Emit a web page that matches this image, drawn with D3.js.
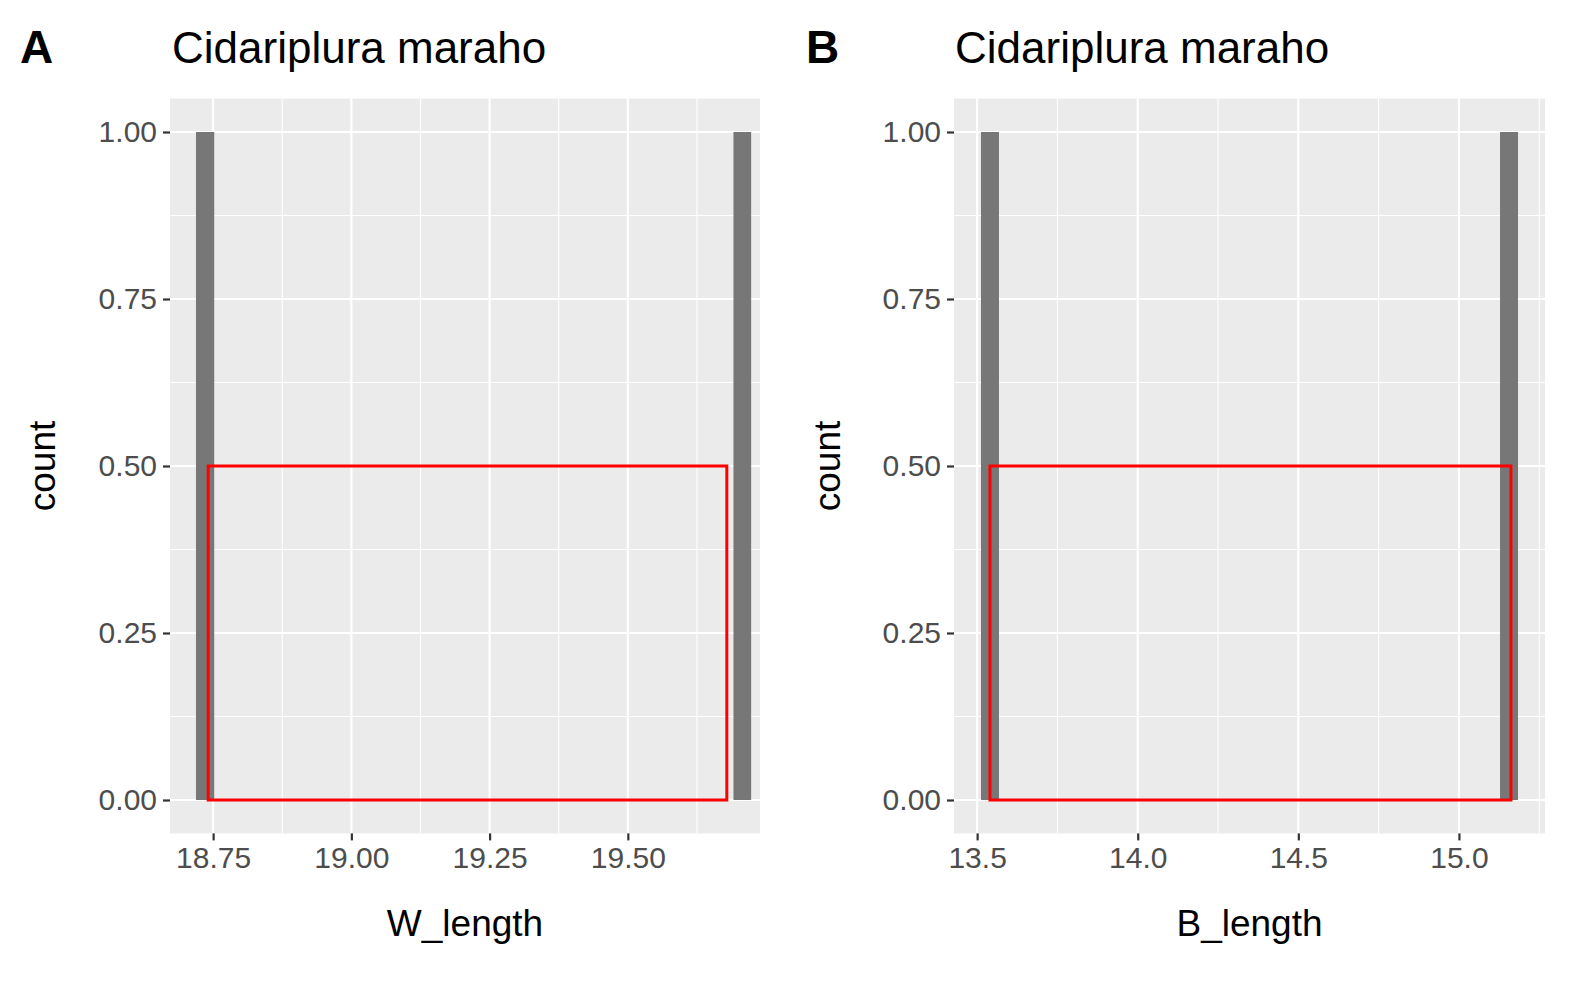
<!DOCTYPE html>
<html><head><meta charset="utf-8">
<script src="https://cdn.jsdelivr.net/npm/d3@7"></script>
<style>body{margin:0;background:#fff}text{font-family:Arial,"Liberation Sans",sans-serif}</style>
</head><body>
<script>
const titles = ["Cidariplura maraho", "Cidariplura maraho"];
const tags = ["A", "B"];
const xLabels = ["W_length", "B_length"];
const xDomains = [[18.672, 19.739], [13.428, 15.268]];
const xTicks = [[18.75, 19.00, 19.25, 19.50], [13.5, 14.0, 14.5, 15.0]];
const xFormats = [".2f", ".1f"];
const xMinor = [[18.625, 18.875, 19.125, 19.375, 19.625], [13.25, 13.75, 14.25, 14.75, 15.25]];
const bars = [[{x0: 18.719, x1: 18.752, n: 1}, {x0: 19.691, x1: 19.723, n: 1}],
              [{x0: 13.512, x1: 13.568, n: 1}, {x0: 15.128, x1: 15.184, n: 1}]];
const redRects = [{x0: 18.741, x1: 19.679, h: 0.5}, {x0: 13.540, x1: 15.162, h: 0.5}];
const yTicks = [0, 0.25, 0.5, 0.75, 1];
const yMinor = [0.125, 0.375, 0.625, 0.875];

const svg = d3.select("body").append("svg").attr("width", 1593).attr("height", 984);
const panels = [{left: 170, right: 760, tagX: 20, titleX: 172, yLabX: 55},
                {left: 954, right: 1545, tagX: 806, titleX: 955, yLabX: 840}];
const pTop = 98.6, pBottom = 833.4;

panels.forEach((p, i) => {
  const x = d3.scaleLinear().domain(xDomains[i]).range([p.left, p.right]);
  const y = d3.scaleLinear().domain([-0.05, 1.05]).range([pBottom, pTop]);
  const g = svg.append("g");
  g.append("rect").attr("x", p.left).attr("y", pTop).attr("width", p.right - p.left)
    .attr("height", pBottom - pTop).attr("fill", "#ebebeb");
  const inX = v => v >= xDomains[i][0] && v <= xDomains[i][1];
  xMinor[i].filter(inX).forEach(v => g.append("line").attr("x1", x(v)).attr("x2", x(v))
    .attr("y1", pTop).attr("y2", pBottom).attr("stroke", "#fff").attr("stroke-width", 1.1));
  yMinor.forEach(v => g.append("line").attr("x1", p.left).attr("x2", p.right)
    .attr("y1", y(v)).attr("y2", y(v)).attr("stroke", "#fff").attr("stroke-width", 1.1));
  xTicks[i].forEach(v => g.append("line").attr("x1", x(v)).attr("x2", x(v))
    .attr("y1", pTop).attr("y2", pBottom).attr("stroke", "#fff").attr("stroke-width", 2.2));
  yTicks.forEach(v => g.append("line").attr("x1", p.left).attr("x2", p.right)
    .attr("y1", y(v)).attr("y2", y(v)).attr("stroke", "#fff").attr("stroke-width", 2.2));

  g.selectAll(".bar").data(bars[i]).join("rect")
    .attr("x", d => x(d.x0)).attr("width", d => x(d.x1) - x(d.x0))
    .attr("y", d => y(d.n)).attr("height", d => y(0) - y(d.n)).attr("fill", "#777777");
  const r = redRects[i];
  g.append("rect").attr("x", x(r.x0)).attr("width", x(r.x1) - x(r.x0))
    .attr("y", y(r.h)).attr("height", y(0) - y(r.h))
    .attr("fill", "none").attr("stroke", "#ff0000").attr("stroke-width", 3);

  const xa = g.append("g").attr("transform", `translate(0,${pBottom})`)
    .call(d3.axisBottom(x).tickValues(xTicks[i]).tickFormat(d3.format(xFormats[i])).tickSize(7).tickPadding(6));
  const ya = g.append("g").attr("transform", `translate(${p.left},0)`)
    .call(d3.axisLeft(y).tickValues(yTicks).tickFormat(d3.format(".2f")).tickSize(7).tickPadding(6));
  [xa, ya].forEach(a => {
    a.select(".domain").remove();
    a.selectAll(".tick line").attr("stroke", "#333").attr("stroke-width", 2.2);
    a.selectAll(".tick text").attr("fill", "#4d4d4d").style("font-size", "30px");
  });

  svg.append("text").attr("x", p.tagX).attr("y", 63).attr("font-weight", "bold")
    .style("font-size", "46px").text(tags[i]);
  svg.append("text").attr("x", p.titleX).attr("y", 63).style("font-size", "44px").text(titles[i]);
  svg.append("text").attr("x", (p.left + p.right) / 2).attr("y", 936).attr("text-anchor", "middle")
    .style("font-size", "37px").text(xLabels[i]);
  svg.append("text").attr("transform", `translate(${p.yLabX},${(pTop + pBottom) / 2}) rotate(-90)`)
    .attr("text-anchor", "middle").style("font-size", "37px").text("count");
});
</script>
</body></html>
